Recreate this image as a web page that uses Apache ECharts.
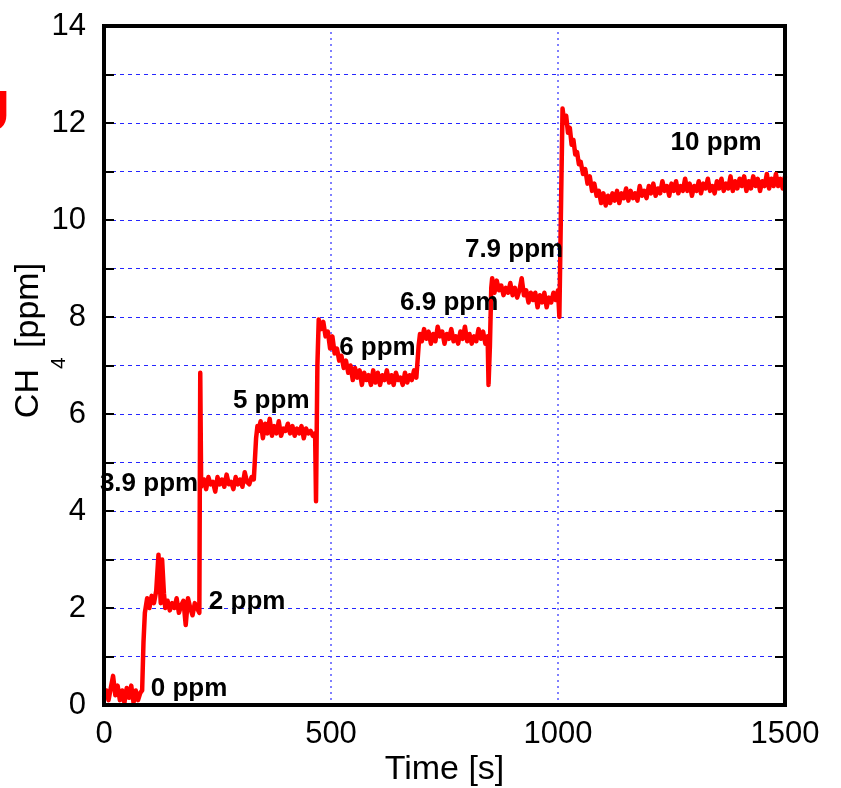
<!DOCTYPE html>
<html><head><meta charset="utf-8">
<script src="https://cdn.jsdelivr.net/npm/echarts/dist/echarts.min.js"></script>
<style>html,body{margin:0;padding:0;background:#fff}#c{width:841px;height:788px}</style>
</head><body><div id="c"></div>
<script>
// time [s]
const timeSec = [
 0,5,10,15,20,25,30,35,40,45,50,55,60,65,70,75,80,
 84,87,90,95,
 100,105,110,115,120,125,128,132,135,140,145,150,155,160,165,170,175,180,185,190,195,200,205,210,
 212,214,
 220,225,230,235,240,245,250,255,260,265,270,275,280,285,290,295,300,305,310,315,320,325,330,
 335,338,
 340,345,350,355,360,365,370,375,380,385,390,395,400,405,410,415,420,425,430,435,440,445,450,455,460,465,
 467,470,473,
 478,483,488,493,498,503,508,513,518,523,528,533,538,543,548,553,558,563,568,573,578,583,588,593,598,603,608,613,618,623,628,633,638,643,648,653,658,663,668,673,678,683,688,
 693,696,
 700,705,710,715,720,725,730,735,740,745,750,755,760,765,770,775,780,785,790,795,800,805,810,815,820,825,830,835,840,845,
 847,850,853,
 855,860,865,870,875,880,885,890,895,900,905,910,915,920,925,930,935,940,945,950,955,960,965,970,975,980,985,990,995,1000,
 1003,1007,1010,
 1014,1018,1022,1026,1030,1034,1038,1042,1046,1050,1055,1060,1065,1070,1075,1080,1085,1090,1095,1100,
 1105,1110,1115,1120,1125,1130,1135,1140,1145,1150,1155,1160,1165,1170,1175,1180,1185,1190,1195,1200,
 1205,1210,1215,1220,1225,1230,1235,1240,1245,1250,1255,1260,1265,1270,1275,1280,1285,1290,1295,1300,
 1305,1310,1315,1320,1325,1330,1335,1340,1345,1350,1355,1360,1365,1370,1375,1380,1385,1390,1395,1400,
 1405,1410,1415,1420,1425,1430,1435,1440,1445,1450,1455,1460,1465,1470,1475,1480,1485,1490,1495,1500
];
// CH4 [ppm]
const ch4 = [
 0.15,0.3,0.1,0.35,0.6,0.2,0.4,0.1,0.3,0.05,0.35,0.15,0.4,0.05,0.3,0.1,0.25,
 0.3,1.3,1.9,2.2,
 2.0,2.25,2.1,2.35,3.1,2.1,3.0,2.3,2.0,2.15,1.95,2.1,2.0,2.2,1.9,2.05,2.15,1.65,2.2,2.0,1.85,2.1,2.0,1.9,
 6.85,4.5,
 4.65,4.45,4.7,4.55,4.6,4.4,4.7,4.55,4.65,4.5,4.75,4.55,4.6,4.45,4.7,4.55,4.65,4.5,4.8,4.6,4.55,4.7,4.65,
 5.5,5.75,
 5.65,5.85,5.5,5.8,5.6,5.9,5.55,5.75,5.6,5.85,5.55,5.7,5.65,5.8,5.6,5.75,5.55,5.7,5.6,5.75,5.5,5.7,5.6,5.65,5.55,5.6,
 4.2,7.0,7.95,
 7.75,7.9,7.6,7.7,7.35,7.6,7.25,7.35,7.1,7.2,6.95,7.1,6.85,7.0,6.7,6.95,6.75,6.9,6.6,6.85,6.7,6.8,6.6,6.9,6.65,6.85,6.6,6.8,6.7,6.9,6.65,6.8,6.6,6.85,6.7,6.75,6.6,6.85,6.65,6.8,6.7,6.9,6.75,
 7.4,7.65,
 7.5,7.75,7.55,7.7,7.45,7.65,7.5,7.8,7.6,7.7,7.45,7.65,7.55,7.75,7.5,7.6,7.45,7.7,7.55,7.8,7.5,7.65,7.45,7.6,7.5,7.75,7.55,7.7,7.45,7.6,
 6.6,7.4,8.6,
 8.8,8.5,8.75,8.55,8.65,8.45,8.6,8.5,8.7,8.45,8.6,8.4,8.55,8.8,8.45,8.55,8.3,8.5,8.35,8.5,8.2,8.45,8.3,8.5,8.2,8.4,8.3,8.5,8.35,8.55,
 8.0,10.5,12.3,
 12.0,12.15,11.8,11.9,11.55,11.65,11.35,11.4,11.15,11.2,10.95,11.05,10.75,10.9,10.6,10.75,10.5,10.6,10.35,10.55,
 10.3,10.5,10.35,10.55,10.4,10.6,10.35,10.55,10.45,10.65,10.4,10.6,10.45,10.55,10.4,10.7,10.5,10.6,10.45,10.7,
 10.55,10.75,10.5,10.65,10.55,10.8,10.6,10.7,10.5,10.75,10.6,10.8,10.55,10.7,10.6,10.85,10.6,10.75,10.5,10.7,
 10.6,10.8,10.55,10.75,10.65,10.85,10.6,10.7,10.55,10.8,10.65,10.85,10.6,10.75,10.65,10.9,10.6,10.8,10.65,10.85,
 10.7,10.9,10.6,10.8,10.65,10.9,10.7,10.85,10.6,10.8,10.7,10.95,10.65,10.85,10.7,10.95,10.7,10.85,10.65,10.9
];
// annotations
const annoText = ['0 ppm','2 ppm','3.9 ppm','5 ppm','6 ppm','6.9 ppm','7.9 ppm','10 ppm'];
const annoT = [103, 231, -9, 284, 518, 652, 795, 1248];
const annoV = [0.33, 2.13, 4.57, 6.28, 7.37, 8.29, 9.39, 11.59];

const xMin = 0, xMax = 1500, xStep = 500;
const yMin = 0, yMax = 14, yStep = 1;

const FONT = 'Liberation Sans, Arial, sans-serif';
const chart = echarts.init(document.getElementById('c'), null, {renderer: 'canvas'});
const gridBlue = '#2626ff';
const option = {
  animation: false,
  backgroundColor: '#fff',
  grid: {left: 104, top: 26, width: 681, height: 679, containLabel: false, outerBoundsMode: 'none'},
  xAxis: {
    type: 'value', min: xMin, max: xMax, interval: xStep,
    axisLine: {show: false}, axisTick: {show: false},
    axisLabel: {fontSize: 31, color: '#000', margin: 14, fontFamily: FONT, formatter: v => String(v)},
    splitLine: {show: true, lineStyle: {color: '#5555ff', type: [2, 4], width: 1.5}},
    name: 'Time [s]', nameLocation: 'middle', nameGap: 48, nameMoveOverlap: false,
    nameTextStyle: {fontSize: 34, color: '#000', fontFamily: FONT}
  },
  yAxis: [{
    type: 'value', min: yMin, max: yMax, interval: yStep,
    axisLine: {show: false},
    axisTick: {show: true, inside: true, length: 10, lineStyle: {color: '#000', width: 2}},
    axisLabel: {fontSize: 31, color: '#000', margin: 18, fontFamily: FONT,
      formatter: v => (v % 2 === 0 ? String(v) : '')},
    splitLine: {show: true, lineStyle: {color: gridBlue, type: [4, 4], width: 1}},
    name: '{a|CH}{s|4}{a| [ppm]}', nameLocation: 'middle', nameRotate: 90, nameGap: 34,
    nameMoveOverlap: false,
    nameTextStyle: {
      color: '#000', fontFamily: FONT, padding: [0, 0, 0, 50],
      rich: {
        a: {fontSize: 34, color: '#000', fontFamily: FONT, verticalAlign: 'top', lineHeight: 58},
        s: {fontSize: 21, color: '#000', fontFamily: FONT, verticalAlign: 'bottom', lineHeight: 58}
      }
    }
  }, {
    type: 'value', position: 'right', min: yMin, max: yMax, interval: yStep,
    axisLine: {show: false},
    axisTick: {show: true, inside: true, length: 10, lineStyle: {color: '#000', width: 2}},
    axisLabel: {show: false}, splitLine: {show: false}
  }],
  series: [{
    type: 'line', yAxisIndex: 0,
    data: timeSec.map((t, i) => [t, ch4[i]]),
    showSymbol: false, symbol: 'none',
    lineStyle: {color: '#ff0000', width: 4.5, join: 'round'},
    z: 3
  }]
};
chart.setOption(option);

const p0 = chart.convertToPixel({gridIndex: 0}, [xMin, yMin]);
const p1 = chart.convertToPixel({gridIndex: 0}, [xMax, yMax]);
const graphics = [];
annoText.forEach((txt, i) => {
  const p = chart.convertToPixel({gridIndex: 0}, [annoT[i], annoV[i]]);
  graphics.push({
    type: 'text', x: p[0], y: p[1], z: 50,
    style: {text: txt, fill: '#000', font: 'bold 26px ' + FONT, textAlign: 'left', textVerticalAlign: 'middle'}
  });
});
graphics.push({
  type: 'rect', z: 100,
  shape: {x: p0[0], y: p1[1], width: p1[0] - p0[0], height: p0[1] - p1[1]},
  style: {fill: 'none', stroke: '#000', lineWidth: 4}
});
graphics.push({
  type: 'text', x: 10, y: 86, z: 60,
  style: {text: 'U', fill: '#ff0000', font: 'bold 58px ' + FONT, textAlign: 'right', textVerticalAlign: 'top'}
});
chart.setOption({graphic: graphics});
</script>
</body></html>
